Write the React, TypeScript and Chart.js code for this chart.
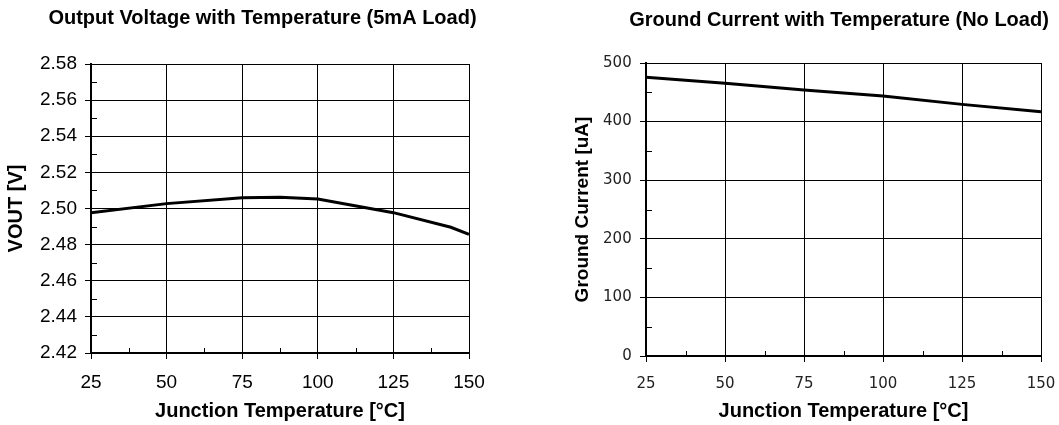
import React, { useEffect, useRef } from "react";
import { Chart, registerables } from "chart.js";

Chart.register(...registerables);

// ---- data ----
const voutTemps = [25, 50, 75, 87.5, 100, 125, 144, 150];
const voutValues = [2.4977, 2.5027, 2.506, 2.5062, 2.5052, 2.4977, 2.4896, 2.4857];

const gndTemps = [25, 50, 75, 100, 125, 150];
const gndValues = [475.5, 465.3, 453.8, 443.6, 429.4, 416.8];

const tempTicks = [25, 50, 75, 100, 125, 150];
const voutTicks = [2.42, 2.44, 2.46, 2.48, 2.5, 2.52, 2.54, 2.56, 2.58];
const gndTicks = [0, 100, 200, 300, 400, 500];

const ARIAL = '"Liberation Sans", Arial, sans-serif';
const DEJAVU = '"DejaVu Sans", sans-serif';

const minorTicks = {
  id: "minorTicks",
  afterDraw(chart: any) {
    const { ctx, chartArea, scales } = chart;
    const xs = scales.x;
    const ys = scales.y;
    ctx.save();
    ctx.strokeStyle = "#000";
    ctx.lineWidth = 1;
    ctx.beginPath();
    const yt = ys.ticks.map((t: any) => t.value);
    for (let i = 0; i < yt.length - 1; i++) {
      const v = (yt[i] + yt[i + 1]) / 2;
      const p = Math.round(ys.getPixelForValue(v)) + 0.5;
      ctx.moveTo(chartArea.left, p);
      ctx.lineTo(chartArea.left + 6, p);
    }
    const xt = xs.ticks.map((t: any) => t.value);
    for (let i = 0; i < xt.length - 1; i++) {
      const v = (xt[i] + xt[i + 1]) / 2;
      const p = Math.round(xs.getPixelForValue(v)) + 0.5;
      ctx.moveTo(p, chartArea.bottom);
      ctx.lineTo(p, chartArea.bottom - 5);
    }
    ctx.stroke();
    ctx.restore();
  },
};

// chart title drawn at a fixed centre (the reference titles are not centred on the plot area)
const fixedTitle = {
  id: "fixedTitle",
  afterDraw(chart: any, _args: any, opts: any) {
    if (!opts || !opts.text) return;
    const { ctx } = chart;
    ctx.save();
    ctx.fillStyle = "#000";
    ctx.font = `bold 20px ${ARIAL}`;
    ctx.textAlign = "center";
    ctx.textBaseline = "middle";
    ctx.fillText(opts.text, opts.x, opts.y);
    ctx.restore();
  },
};

type P = {
  title: string;
  titleX: number;
  titleY: number;
  padTop: number;
  padRight: number;
  xs: number[];
  ys: number[];
  yTicks: number[];
  yMin: number;
  yMax: number;
  yWidth: number;
  xHeight: number;
  yTitle: string;
  yTitleSize: number;
  yTitlePad: number;
  tickFont: string;
  tickSize: number;
  tickColor: string;
  yTickPad: number;
  xTickPad: number;
  fmt: (v: number) => string;
};

function makeConfig(p: P): any {
  const grid = {
    color: "#000",
    lineWidth: 1,
    tickLength: 6,
    tickColor: "#000",
    tickWidth: 1,
  };
  return {
    type: "line",
    data: {
      datasets: [
        {
          data: p.xs.map((x, i) => ({ x, y: p.ys[i] })),
          borderColor: "#000",
          borderWidth: 3,
          pointRadius: 0,
          fill: false,
          tension: 0,
        },
      ],
    },
    options: {
      responsive: false,
      animation: false,
      layout: { padding: { left: 0, top: p.padTop, right: p.padRight, bottom: 0 } },
      plugins: {
        legend: { display: false },
        tooltip: { enabled: false },
        title: { display: false },
        fixedTitle: { text: p.title, x: p.titleX, y: p.titleY },
      },
      scales: {
        x: {
          type: "linear",
          min: 25,
          max: 150,
          afterBuildTicks: (s: any) => {
            s.ticks = tempTicks.map((v) => ({ value: v }));
          },
          afterFit: (s: any) => {
            s.height = p.xHeight;
          },
          ticks: {
            color: p.tickColor,
            font: { family: p.tickFont, size: p.tickSize },
            padding: p.xTickPad,
            maxRotation: 0,
            autoSkip: false,
          },
          grid,
          border: { display: true, width: 2, color: "#000" },
          title: {
            display: true,
            text: "Junction Temperature [°C]",
            color: "#000",
            font: { family: ARIAL, size: 20, weight: "bold", lineHeight: 1.2 },
            padding: { top: 0, bottom: 1.5 },
          },
        },
        y: {
          type: "linear",
          min: p.yMin,
          max: p.yMax,
          afterBuildTicks: (s: any) => {
            s.ticks = p.yTicks.map((v) => ({ value: v }));
          },
          afterFit: (s: any) => {
            s.width = p.yWidth;
          },
          ticks: {
            color: p.tickColor,
            font: { family: p.tickFont, size: p.tickSize },
            padding: p.yTickPad,
            autoSkip: false,
            callback: (v: any) => p.fmt(Number(v)),
          },
          grid,
          border: { display: true, width: 2, color: "#000" },
          title: {
            display: true,
            text: p.yTitle,
            color: "#000",
            font: { family: ARIAL, size: p.yTitleSize, weight: "bold", lineHeight: 1.2 },
            padding: { top: p.yTitlePad, bottom: 0 },
          },
        },
      },
    },
    plugins: [minorTicks, fixedTitle],
  };
}

function ChartCanvas({ cfg, left, width }: { cfg: any; left: number; width: number }) {
  const ref = useRef<HTMLCanvasElement | null>(null);
  useEffect(() => {
    if (!ref.current) return;
    const c = new Chart(ref.current, cfg);
    return () => c.destroy();
  }, []);
  return (
    <canvas
      ref={ref}
      width={width}
      height={425}
      style={{ position: "absolute", left, top: 0, width, height: 425, display: "block" }}
    />
  );
}

export default function App() {
  // Left chart: plot area x 91..469, y 64..353
  const leftCfg = makeConfig({
    title: "Output Voltage with Temperature (5mA Load)",
    titleX: 262.5,
    titleY: 18.7,
    padTop: 64,
    padRight: 525 - 469,
    xs: voutTemps,
    ys: voutValues,
    yTicks: voutTicks,
    yMin: 2.42,
    yMax: 2.58,
    yWidth: 91,
    xHeight: 72,
    yTitle: "VOUT [V]",
    yTitleSize: 20,
    yTitlePad: 4,
    tickFont: ARIAL,
    tickSize: 19,
    tickColor: "#000",
    yTickPad: 8,
    xTickPad: 12,
    fmt: (v) => v.toFixed(2),
  });
  // Right chart: canvas starts at 530, plot area local x 116..511, y 63..356
  const rightCfg = makeConfig({
    title: "Ground Current with Temperature (No Load)",
    titleX: 839 - 530,
    titleY: 20,
    padTop: 63,
    padRight: 618 - 511,
    xs: gndTemps,
    ys: gndValues,
    yTicks: gndTicks,
    yMin: 0,
    yMax: 500,
    yWidth: 116,
    xHeight: 69,
    yTitle: "Ground Current [uA]",
    yTitleSize: 19,
    yTitlePad: 53 - 11.4,
    tickFont: DEJAVU,
    tickSize: 15,
    tickColor: "#222",
    yTickPad: 8.3,
    xTickPad: 13,
    fmt: (v) => String(Math.round(v)),
  });
  return (
    <div
      style={{
        position: "fixed",
        left: 0,
        top: 0,
        width: 1059,
        height: 425,
        overflow: "hidden",
        background: "#fff",
      }}
    >
      <ChartCanvas cfg={leftCfg} left={0} width={525} />
      <ChartCanvas cfg={rightCfg} left={530} width={618} />
    </div>
  );
}
